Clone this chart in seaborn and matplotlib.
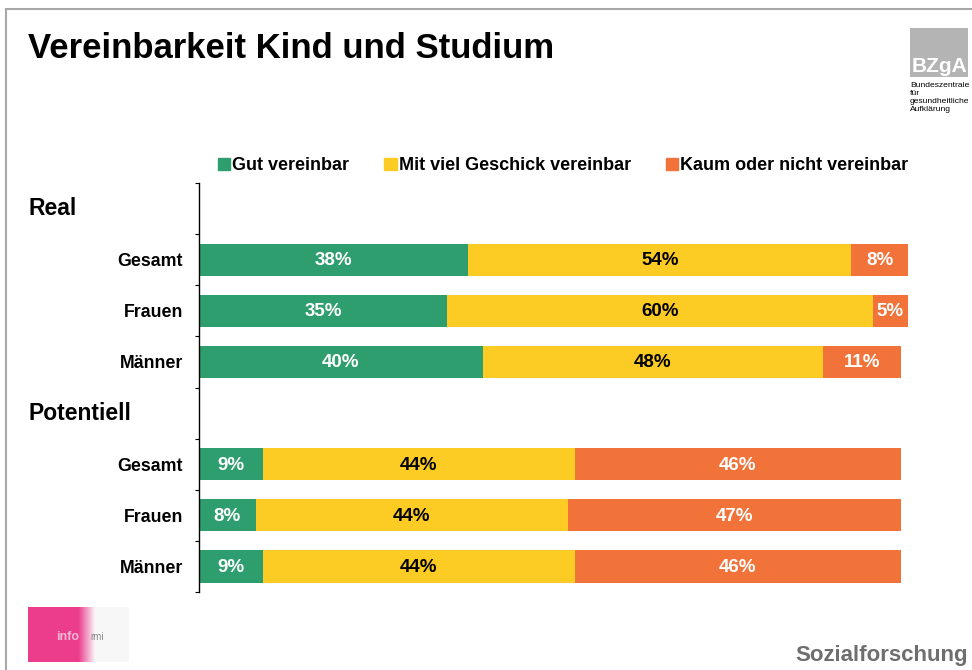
import seaborn as sns
import matplotlib.pyplot as plt
import matplotlib.patches as mpatches
import numpy as np
import pandas as pd

# Data (percent)
groups = ['Real', 'Potentiell']
persons = ['Gesamt', 'Frauen', 'Männer']
gut = [38, 35, 40, 9, 8, 9]
geschick = [54, 60, 48, 44, 44, 44]
kaum = [8, 5, 11, 46, 47, 46]
series_names = ['Gut vereinbar', 'Mit viel Geschick vereinbar', 'Kaum oder nicht vereinbar']
colors = ['#2e9e6e', '#fccc24', '#f2733a']
label_colors = ['white', 'black', 'white']

sns.set_theme(style='white')
plt.rcParams['font.family'] = ['Liberation Sans', 'DejaVu Sans']
plt.rcParams['text.color'] = 'black'
plt.rcParams['ytick.color'] = 'black'
plt.rcParams['axes.labelcolor'] = 'black'

# Row keys incl. empty header rows
row_keys = []
row_labels = []
for g in groups:
    row_keys.append(g)
    row_labels.append('')
    for p in persons:
        row_keys.append(f'{g} {p}')
        row_labels.append(p)
data_keys = [f'{g} {p}' for g in groups for p in persons]

df = pd.DataFrame({'row': data_keys, 'gut': gut, 'geschick': geschick, 'kaum': kaum})
df['c1'] = df['gut']
df['c2'] = df['gut'] + df['geschick']
df['c3'] = df['c2'] + df['kaum']

fig = plt.figure(figsize=(9.72, 6.70), dpi=100)
ax = fig.add_axes([199 / 972, 1 - 592 / 670, 709 / 972, 409 / 670])

# stacked via overlapping cumulative bars
for col, c in zip(['c3', 'c2', 'c1'], colors[::-1]):
    sns.barplot(data=df, x=col, y='row', order=row_keys, color=c, width=0.63,
                saturation=1, ax=ax, errorbar=None, linewidth=0)

ax.set_xlim(0, 100)
ax.set_ylim(7.5, -0.5)
ax.set_xlabel('')
ax.set_ylabel('')
ax.set_xticks([])
ax.set_yticks(range(len(row_keys)))
ax.set_yticklabels(row_labels, fontsize=12.8, fontweight='bold', color='black')
ax.set_yticks(np.arange(-0.5, 8, 1), minor=True)
ax.tick_params(axis='y', which='major', length=0, pad=11.5)
ax.tick_params(axis='y', which='minor', length=3, width=0.8, color='black', left=True)
for s in ['top', 'right', 'bottom']:
    ax.spines[s].set_visible(False)
ax.spines['left'].set_color('black')
ax.spines['left'].set_linewidth(1)

# segment labels
pos = {k: i for i, k in enumerate(row_keys)}
for _, r in df.iterrows():
    y = pos[r['row']]
    starts = [0, r['c1'], r['c2']]
    vals = [r['gut'], r['geschick'], r['kaum']]
    for s0, v, lc in zip(starts, vals, label_colors):
        ax.text(s0 + v / 2, y + 0.02, f'{v}%', ha='center', va='center', color=lc,
                fontsize=13.5, fontweight='bold')

# group headers
for g in groups:
    ydisp = ax.transData.transform((0, pos[g]))[1]
    yfig = fig.transFigure.inverted().transform((0, ydisp))[1]
    fig.text(28 / 972, yfig, g, fontsize=16.5, fontweight='bold', ha='left', va='center')

# legend
handles = [mpatches.Patch(color=c, label=n) for c, n in zip(colors, series_names)]
fig.legend(handles=handles, loc='center left', bbox_to_anchor=(218 / 972, 1 - 166 / 670),
           ncol=3, frameon=False, handlelength=0.67, handleheight=0.67, handletextpad=0.12,
           columnspacing=1.95, borderpad=0, borderaxespad=0,
           prop={'weight': 'bold', 'size': 13})

# title
fig.text(28 / 972, 1 - 49 / 670, 'Vereinbarkeit Kind und Studium', fontsize=25,
         fontweight='bold', ha='left', va='center')

# frame lines
fig.add_artist(plt.Line2D([6 / 972, 1], [1 - 9 / 670] * 2, color='#a8a8a8', lw=1.5))
fig.add_artist(plt.Line2D([6 / 972] * 2, [0, 1 - 9 / 670], color='#a8a8a8', lw=1.5))

# BZgA logo
fig.add_artist(mpatches.Rectangle((910 / 972, 1 - 77 / 670), 58 / 972, 49 / 670,
                                  transform=fig.transFigure, color='#b4b4b4', lw=0))
fig.text(939 / 972, 1 - 66 / 670, 'BZgA', color='white', fontsize=15, fontweight='bold',
         ha='center', va='center')
fig.text(910 / 972, 1 - 82 / 670, 'Bundeszentrale\nfür\ngesundheitliche\nAufklärung',
         fontsize=6.1, ha='left', va='top', linespacing=1.2, color='black')

# bottom-left logo
grad = np.linspace(0, 1, 100)
img = np.ones((10, 100, 3))
pink = np.array([236, 60, 140]) / 255
for i, t in enumerate(grad):
    w = 1.0 if t < 0.5 else max(0.0, 1 - (t - 0.5) * 6)
    img[:, i, :] = pink * w + (1 - w) * np.array([0.97, 0.97, 0.97])
lax = fig.add_axes([28 / 972, 1 - 662 / 670, 100 / 972, 55 / 670])
lax.imshow(img, aspect='auto')
lax.axis('off')
lax.text(0.28, 0.45, 'info', transform=lax.transAxes, color='#f4b8d4', fontsize=9,
         fontweight='bold', va='center')
lax.text(0.62, 0.45, 'rmi', transform=lax.transAxes, color='#888888', fontsize=7,
         va='center')

# footer
fig.text(968 / 972, 1 - 655 / 670, 'Sozialforschung', color='#6e6e6e', fontsize=16,
         fontweight='bold', ha='right', va='center')

fig.savefig('out.png', dpi=100)
